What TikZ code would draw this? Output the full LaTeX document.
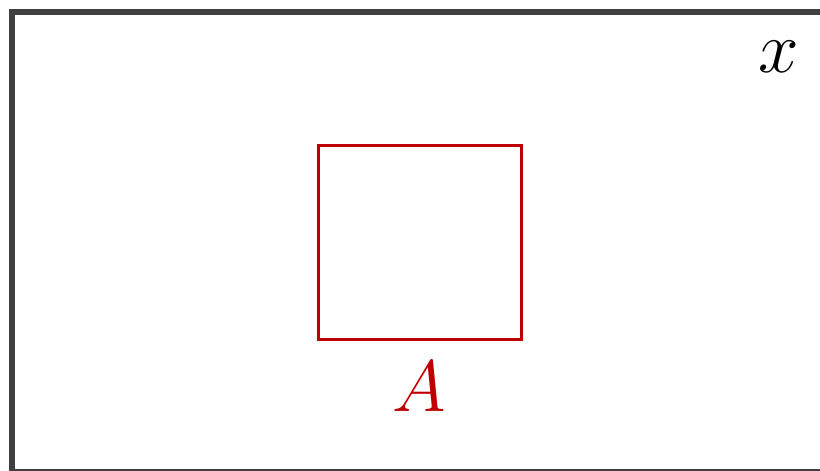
\documentclass[tikz,border=0pt]{standalone}
\usepackage{amsmath,amssymb}
\usepackage{tikz}
\usetikzlibrary{positioning}

\begin{document}
\begin{tikzpicture}[thick]
\useasboundingbox (0,0) rectangle (8.2,4.7);
\clip (0,0) rectangle (8.2,4.7);
\draw[line width=0.06cm,black!75] (0.12,-0.02) rectangle (8.6,4.58);
\node (x) at (7.79,4.13) {\fontsize{20}{24}\selectfont$x$};
\node[draw=red!75!black,line width=0.03cm,minimum width=2.03cm,minimum height=1.94cm,inner sep=0pt] (box) at (4.195,2.28) {};
\node[text=red!75!black,below=0.08cm of box] (lab) {\fontsize{20}{24}\selectfont$A$};
\end{tikzpicture}
\end{document}
